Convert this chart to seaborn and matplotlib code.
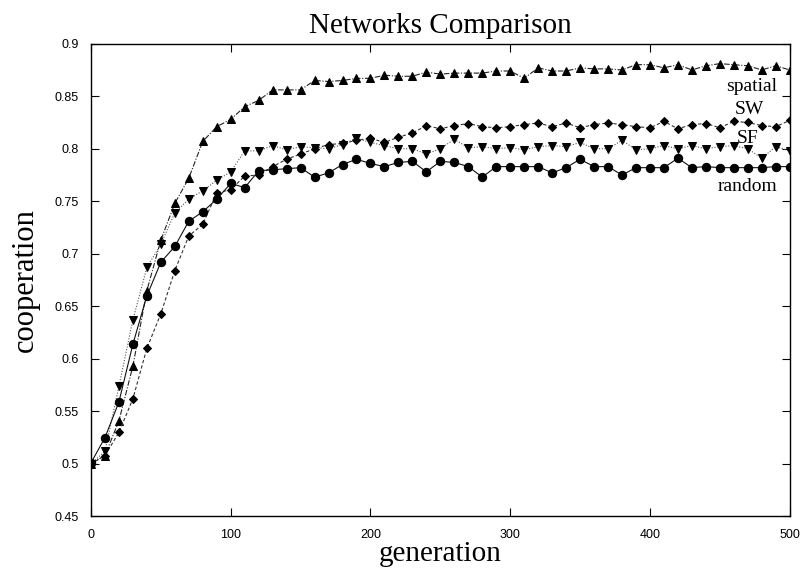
import numpy as np
import pandas as pd
import matplotlib
matplotlib.use("Agg")
import matplotlib.pyplot as plt
import seaborn as sns

generations = list(range(0, 501, 10))

spatial = [0.500, 0.508, 0.541, 0.593, 0.665, 0.713, 0.748, 0.772, 0.807, 0.821,
           0.828, 0.840, 0.846, 0.856, 0.856, 0.856, 0.865, 0.864, 0.865, 0.867,
           0.867, 0.870, 0.869, 0.869, 0.873, 0.871, 0.872, 0.872, 0.872, 0.874,
           0.874, 0.867, 0.877, 0.874, 0.874, 0.877, 0.876, 0.876, 0.875, 0.880,
           0.880, 0.877, 0.880, 0.875, 0.879, 0.881, 0.880, 0.879, 0.875, 0.879,
           0.875]

sw = [0.500, 0.508, 0.530, 0.562, 0.610, 0.643, 0.684, 0.717, 0.728, 0.758,
      0.761, 0.774, 0.775, 0.783, 0.790, 0.795, 0.800, 0.804, 0.805, 0.808,
      0.810, 0.806, 0.811, 0.815, 0.822, 0.819, 0.822, 0.824, 0.821, 0.820,
      0.821, 0.823, 0.8245, 0.821, 0.8245, 0.820, 0.823, 0.8245, 0.823, 0.821,
      0.820, 0.826, 0.819, 0.823, 0.824, 0.820, 0.826, 0.825, 0.822, 0.821,
      0.827]

sf = [0.500, 0.512, 0.574, 0.637, 0.687, 0.709, 0.739, 0.752, 0.760, 0.770,
      0.778, 0.798, 0.798, 0.803, 0.799, 0.802, 0.801, 0.800, 0.804, 0.810,
      0.806, 0.803, 0.800, 0.800, 0.795, 0.800, 0.809, 0.801, 0.802, 0.800,
      0.801, 0.799, 0.802, 0.803, 0.802, 0.806, 0.800, 0.800, 0.808, 0.799,
      0.800, 0.803, 0.800, 0.803, 0.800, 0.802, 0.803, 0.800, 0.791, 0.802,
      0.798]

random_net = [0.501, 0.525, 0.559, 0.614, 0.660, 0.692, 0.707, 0.731, 0.740, 0.752,
              0.767, 0.763, 0.779, 0.780, 0.781, 0.782, 0.773, 0.777, 0.785, 0.790,
              0.786, 0.783, 0.787, 0.788, 0.778, 0.788, 0.787, 0.783, 0.773, 0.783,
              0.783, 0.783, 0.783, 0.777, 0.782, 0.790, 0.783, 0.783, 0.775, 0.782,
              0.782, 0.782, 0.791, 0.782, 0.783, 0.782, 0.782, 0.782, 0.782, 0.783,
              0.783]

networks = ["spatial", "SW", "SF", "random"]
series = {"spatial": spatial, "SW": sw, "SF": sf, "random": random_net}

x_ticks = [0, 100, 200, 300, 400, 500]
y_ticks = [0.45, 0.5, 0.55, 0.6, 0.65, 0.7, 0.75, 0.8, 0.85, 0.9]
y_tick_labels = ["0.45", "0.5", "0.55", "0.6", "0.65", "0.7", "0.75", "0.8", "0.85", "0.9"]

rows = []
for name in networks:
    for g, v in zip(generations, series[name]):
        rows.append({"generation": g, "cooperation": v, "network": name})
df = pd.DataFrame(rows)

sns.set_style("ticks")
plt.rcParams["font.family"] = ["Liberation Sans", "DejaVu Sans"]
plt.rcParams["text.color"] = "black"

fig = plt.figure(figsize=(8.05, 5.71), dpi=100)
ax = fig.add_axes([0.113, 0.0955, 0.868, 0.828])

markers = {"spatial": "^", "SW": "D", "SF": "v", "random": "o"}
dashes = {"spatial": (5, 1.5, 1, 1.5), "SW": (3, 2), "SF": (1, 1.5), "random": ""}
palette = {"spatial": "#222222", "SW": "#333333", "SF": "#555555", "random": "#111111"}

sns.lineplot(data=df, x="generation", y="cooperation", hue="network", style="network",
             markers=markers, dashes=dashes, palette=palette, hue_order=networks,
             style_order=networks, ax=ax, legend=False, linewidth=0.8,
             markersize=6, markeredgecolor="black", markerfacecolor="black")

# slightly smaller diamonds, as in the reference
for line in ax.get_lines():
    if line.get_marker() == "D":
        line.set_markersize(4.5)

ax.set_xlim(0, 500)
ax.set_ylim(0.45, 0.9)
ax.set_xticks(x_ticks)
ax.set_yticks(y_ticks)
ax.set_yticklabels(y_tick_labels)
ax.tick_params(direction="in", length=6, width=0.8, top=True, right=True,
               labelsize=9, pad=9, labelcolor="black", color="black")
for s in ax.spines.values():
    s.set_linewidth(1.0)
    s.set_color("black")

serif = ["Liberation Serif", "DejaVu Serif"]
ax.set_title("Networks Comparison", family=serif, fontsize=21, pad=8, color="black")
ax.set_xlabel("generation", family=serif, fontsize=21, labelpad=0, color="black")
ax.set_ylabel("cooperation", family=serif, fontsize=22, labelpad=10, color="black")

ax.text(491, 0.859, "spatial", family=serif, fontsize=14, ha="right", va="center")
ax.text(471, 0.837, "SW", family=serif, fontsize=14, ha="center", va="center")
ax.text(470, 0.8096, "SF", family=serif, fontsize=14, ha="center", va="center")
ax.text(491, 0.764, "random", family=serif, fontsize=14, ha="right", va="center")

fig.savefig("out.png", dpi=100)
